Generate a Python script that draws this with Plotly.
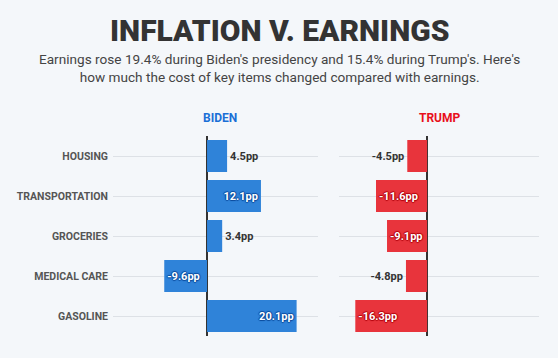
import plotly.graph_objects as go
from plotly.subplots import make_subplots

categories = ["HOUSING", "TRANSPORTATION", "GROCERIES", "MEDICAL CARE", "GASOLINE"]
biden_values = [4.5, 12.1, 3.4, -9.6, 20.1]
trump_values = [-4.5, -11.6, -9.1, -4.8, -16.3]
biden_pos = ["outside", "inside", "outside", "inside", "inside"]
trump_pos = ["outside", "inside", "inside", "outside", "inside"]

BG = "#f4f7fa"
BLUE = "#2f83d9"
RED = "#e8343c"
FONT = "Roboto"
W, H = 558, 358
TOP, BOT = 136, 336  # plot area in page pixels


def lab(v):
    return f"{v:.1f}pp"


def py(ypix):
    return (BOT - ypix) / (BOT - TOP)


fig = make_subplots(rows=1, cols=2, shared_yaxes=False)


def add(vals, pos, color, shadow, col):
    sh = ", ".join(f"{dx}px {dy}px 1px {shadow}" for dx, dy in [(1, 0), (-1, 0), (0, 1), (0, -1)])
    fig.add_trace(go.Bar(
        x=vals, y=categories, orientation="h",
        marker=dict(color=color, line=dict(width=0)),
        width=0.8,
        text=[lab(v) for v in vals], textposition=pos,
        insidetextanchor="end",
        textfont=dict(family=FONT, size=11, weight="bold"),
        insidetextfont=dict(family=FONT, size=11, color="white", weight="bold", shadow=sh),
        outsidetextfont=dict(family=FONT, size=11, color="#333333", weight="bold"),
        cliponaxis=False, constraintext="none",
        hoverinfo="skip", showlegend=False,
    ), row=1, col=col)


add(biden_values, biden_pos, BLUE, "#0b4a9c", 1)
add(trump_values, trump_pos, RED, "#b0000c", 2)

fig.update_layout(
    width=W, height=H,
    paper_bgcolor=BG, plot_bgcolor=BG,
    margin=dict(l=0, r=0, t=TOP, b=H - BOT),
    font=dict(family=FONT),
    xaxis=dict(domain=[113 / W, 318 / W], range=[-21.1, 24.9], showgrid=False,
               zeroline=True, zerolinecolor="#333333", zerolinewidth=2,
               showticklabels=False, fixedrange=True),
    xaxis2=dict(domain=[339 / W, 539 / W], range=[-20.0, 25.4], showgrid=False,
                zeroline=True, zerolinecolor="#333333", zerolinewidth=2,
                showticklabels=False, fixedrange=True),
    yaxis=dict(categoryorder="array", categoryarray=categories, range=[4.5, -0.5],
               showgrid=True, gridcolor="#dde1e6", gridwidth=1,
               tickfont=dict(family=FONT, size=10.5, color="#555555", weight="bold"),
               ticks="", ticklabelstandoff=4, fixedrange=True),
    yaxis2=dict(categoryorder="array", categoryarray=categories, range=[4.5, -0.5],
                showgrid=True, gridcolor="#dde1e6", gridwidth=1,
                showticklabels=False, ticks="", fixedrange=True),
)

fig.add_annotation(text="INFLATION V. EARNINGS", x=0.5, y=py(30), xref="paper", yref="paper",
                   xanchor="center", yanchor="middle", showarrow=False,
                   font=dict(family=FONT, size=30, color="#333333", weight=900))
fig.add_annotation(text="Earnings rose 19.4% during Biden's presidency and 15.4% during Trump's. Here's<br>how much the cost of key items changed compared with earnings.",
                   x=0.5, y=py(68), xref="paper", yref="paper",
                   xanchor="center", yanchor="middle", showarrow=False,
                   font=dict(family=FONT, size=13.6, color="#444444"))
fig.add_annotation(text="BIDEN", x=220 / W, y=py(118), xref="paper", yref="paper",
                   xanchor="center", yanchor="middle", showarrow=False,
                   font=dict(family=FONT, size=12, color="#1a6fd6", weight="bold"))
fig.add_annotation(text="TRUMP", x=440 / W, y=py(118), xref="paper", yref="paper",
                   xanchor="center", yanchor="middle", showarrow=False,
                   font=dict(family=FONT, size=12, color="#e8101c", weight="bold"))

fig.write_html("out.html", config={"displayModeBar": False},
               post_script="document.body.style.margin='0';document.body.style.background='%s';" % BG)
